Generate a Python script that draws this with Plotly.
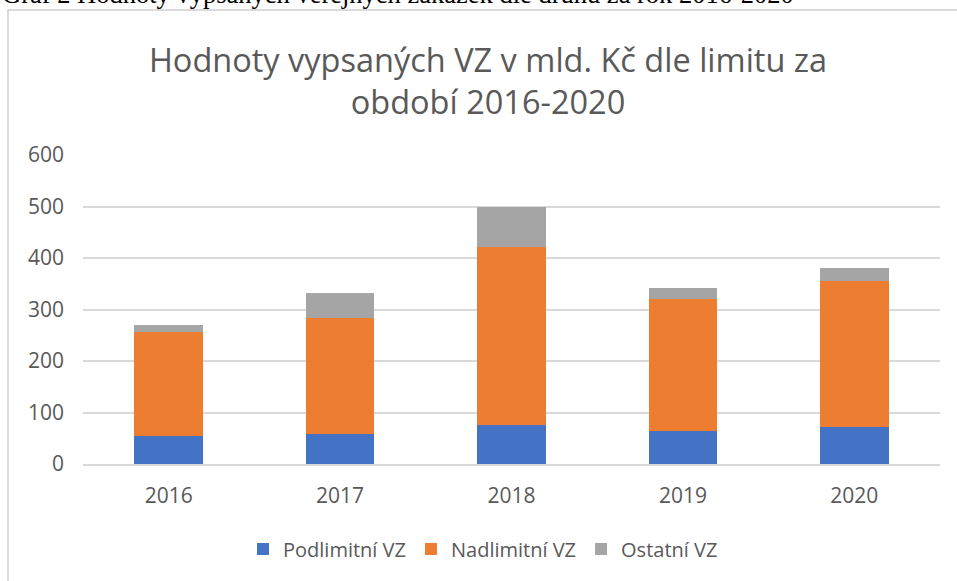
import plotly.graph_objects as go

years = ["2016", "2017", "2018", "2019", "2020"]
podlimitni = [54, 58, 76, 64, 72]
nadlimitni = [202, 225, 345, 256, 283]
ostatni = [14, 49, 79, 22, 25]

series_names = ["Podlimitní VZ", "Nadlimitní VZ", "Ostatní VZ"]
series_colors = ["#4472C4", "#ED7D31", "#A5A5A5"]
y_ticks = [0, 100, 200, 300, 400, 500, 600]

title_text = "Hodnoty vypsaných VZ v mld. Kč dle limitu za<br>období 2016-2020"
caption_text = "Graf 2 Hodnoty vypsaných veřejných zakázek dle druhu za rok 2016-2020"

W, H = 957, 581
L, R, T, B = 83, 17, 155, 117
pw, ph = W - L - R, H - T - B

def px_x(x):
    return (x - L) / pw

def px_y(y):
    return (H - B - y) / ph

font_family = "Open Sans"
grey_text = "#595959"

fig = go.Figure()
for name, vals, col in zip(series_names, [podlimitni, nadlimitni, ostatni], series_colors):
    fig.add_trace(go.Bar(x=years, y=vals, name=name, marker=dict(color=col, line=dict(width=0))))

fig.update_layout(
    width=W, height=H,
    barmode="stack", bargap=0.6,
    margin=dict(l=L, r=R, t=T, b=B),
    plot_bgcolor="white", paper_bgcolor="white",
    font=dict(family=font_family, color=grey_text, size=20),
    title=dict(text=title_text, x=488 / W, xref="container", xanchor="center",
               y=1 - 72 / H, yref="container", yanchor="middle",
               font=dict(family=font_family, size=32.5, color=grey_text)),
    legend=dict(orientation="h", x=px_x(483), xanchor="center", y=px_y(549), yanchor="middle",
                font=dict(size=20, color=grey_text), traceorder="normal",
                itemwidth=30),
    showlegend=True,
)
fig.update_yaxes(range=[0, 600], tickvals=y_ticks, showgrid=True, gridcolor="#d9d9d9", gridwidth=1.5,
                 zeroline=False, showline=False, ticks="", ticklabelstandoff=18,
                 tickfont=dict(size=21, color=grey_text))
fig.update_xaxes(showgrid=False, showline=True, linecolor="#d9d9d9", linewidth=1.5, ticks="",
                 ticklabelstandoff=12, tickfont=dict(size=21, color=grey_text))

fig.add_shape(type="rect", xref="paper", yref="paper",
              x0=px_x(8), x1=px_x(968), y0=px_y(600), y1=px_y(10),
              line=dict(color="#d0d0d0", width=1.5), fillcolor="rgba(0,0,0,0)", layer="below")

fig.add_annotation(text=caption_text, xref="paper", yref="paper", x=px_x(0), xanchor="left",
                   y=px_y(-6), yanchor="middle", showarrow=False,
                   font=dict(family="Liberation Serif", size=26.5, color="black"))

fig.write_html("out.html", post_script="document.body.style.margin='0';",
               config={"displayModeBar": False})
